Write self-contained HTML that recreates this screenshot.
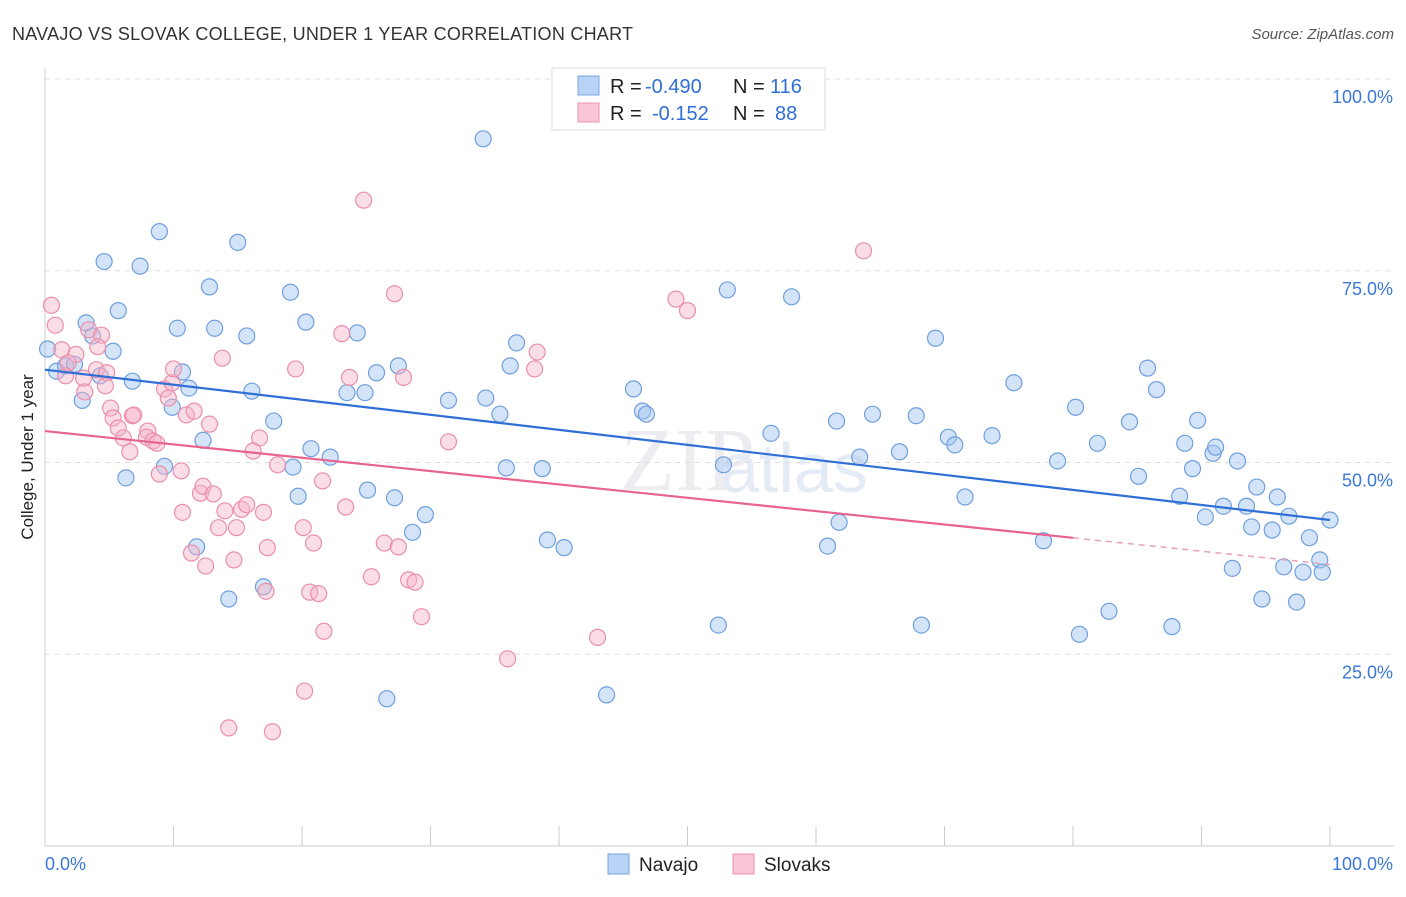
<!DOCTYPE html>
<html><head><meta charset="utf-8"><style>
body{margin:0;background:#fff;font-family:"Liberation Sans",sans-serif;}
</style></head><body>
<svg id="c" width="1406" height="892" xmlns="http://www.w3.org/2000/svg">
<text x="12" y="40" font-size="18" fill="#333" textLength="621">NAVAJO VS SLOVAK COLLEGE, UNDER 1 YEAR CORRELATION CHART</text>
<text x="1394" y="39" font-size="15" fill="#555" font-style="italic" text-anchor="end">Source: ZipAtlas.com</text>
<text x="33" y="457" font-size="17" fill="#222" text-anchor="middle" transform="rotate(-90 33 457)">College, Under 1 year</text>
<text x="620" y="490" font-size="90" fill="#ededf1" font-family="Liberation Serif">ZIP</text>
<text x="720" y="492" font-size="70" fill="#e4ebf6">atlas</text>
<g id="grid"></g><g id="pts"></g><g id="lines"></g>
<g>
<rect x="552" y="68" width="273" height="62" fill="#fff" stroke="#ddd"/>
<rect x="578" y="76" width="21" height="19" fill="#b8d3f5" stroke="#7aa7e0"/>
<rect x="578" y="103" width="21" height="19" fill="#f9c6d5" stroke="#eb93ad"/>
<text x="610" y="93" font-size="20" fill="#222">R =</text>
<text x="645" y="93" font-size="20" fill="#2f6fd6">-0.490</text>
<text x="733" y="93" font-size="20" fill="#222">N =</text>
<text x="770" y="93" font-size="20" fill="#2f6fd6">116</text>
<text x="610" y="120" font-size="20" fill="#222">R =</text>
<text x="652" y="120" font-size="20" fill="#2f6fd6">-0.152</text>
<text x="733" y="120" font-size="20" fill="#222">N =</text>
<text x="775" y="120" font-size="20" fill="#2f6fd6">88</text>
</g>
<g>
<rect x="608" y="854" width="21" height="20" fill="#b8d3f5" stroke="#7aa7e0"/>
<text x="639" y="871" font-size="19" fill="#222">Navajo</text>
<rect x="733" y="854" width="21" height="20" fill="#f9c6d5" stroke="#eb93ad"/>
<text x="764" y="871" font-size="19" fill="#222">Slovaks</text>
</g>
</svg>
<script>
const navX=[34.1,8.9,15.0,4.6,7.4,12.8,19.1,53.1,58.1,5.7,3.2,10.3,13.2,15.7,20.3,24.3,69.3,3.7,5.3,0.2,0.9,1.6,2.3,4.3,6.8,10.7,11.2,16.1,23.5,24.9,25.8,27.5,36.7,36.2,31.4,34.3,35.4,45.8,46.5,46.8,9.9,2.9,17.8,12.3,9.3,6.3,20.7,19.3,22.2,19.7,25.1,27.2,29.6,28.6,35.9,38.7,39.1,40.4,52.8,56.5,61.6,64.4,63.4,66.5,67.8,70.3,70.8,73.7,75.4,71.6,61.8,60.9,52.4,43.7,26.6,17.0,14.3,11.8,80.2,78.8,81.9,84.4,85.8,86.5,85.1,88.3,88.7,89.3,89.7,90.9,91.1,92.8,94.3,95.9,91.7,90.3,93.9,93.5,95.5,96.8,98.4,99.2,100,92.4,96.4,97.9,99.4,94.7,97.4,77.7,82.8,80.5,87.7,68.2];
const navY=[92.2,80.1,78.7,76.2,75.6,72.9,72.2,72.5,71.6,69.8,68.2,67.5,67.5,66.5,68.3,66.9,66.2,66.5,64.5,64.8,61.9,62.6,62.8,61.3,60.6,61.8,59.7,59.3,59.1,59.1,61.7,62.6,65.6,62.6,58.1,58.4,56.3,59.6,56.7,56.3,57.2,58.1,55.4,52.9,49.5,48.0,51.8,49.4,50.7,45.6,46.4,45.4,43.2,40.9,49.3,49.2,39.9,38.9,49.7,53.8,55.4,56.3,50.7,51.4,56.1,53.3,52.3,53.5,60.4,45.5,42.2,39.1,28.8,19.7,19.2,33.8,32.2,39.0,57.2,50.2,52.5,55.3,62.3,59.5,48.2,45.6,52.5,49.2,55.5,51.2,52.0,50.2,46.8,45.5,44.3,42.9,41.6,44.3,41.2,43.0,40.2,37.3,42.5,36.2,36.4,35.7,35.7,32.2,31.8,39.8,30.6,27.6,28.6,28.8];
const slvX=[24.8,63.7,27.2,49.1,50.0,0.5,0.8,3.4,4.4,4.1,1.3,2.4,1.8,4.0,3.0,4.8,3.1,5.1,5.3,5.7,6.1,6.6,6.8,8.0,7.9,8.4,8.7,9.3,9.6,9.9,10.0,11.0,11.6,12.8,13.8,19.5,23.1,38.3,38.1,23.7,27.9,31.4,8.9,10.6,12.1,12.3,13.1,10.7,14.0,15.3,15.7,14.9,13.5,17.0,16.7,16.2,18.1,21.6,23.4,11.4,12.5,14.7,17.3,20.1,20.9,17.2,20.6,21.3,26.4,27.5,28.3,28.8,25.4,29.3,21.7,20.2,14.3,17.7,36.0,43.0,6.9,1.6,4.7];
const slvY=[84.2,77.6,72.0,71.3,69.8,70.5,67.9,67.3,66.6,65.1,64.7,64.1,63.0,62.1,61.0,61.7,59.2,57.1,55.8,54.5,53.2,51.4,56.1,54.1,53.3,52.8,52.5,59.6,58.4,60.4,62.2,56.2,56.7,55.0,63.6,62.2,66.8,64.4,62.2,61.1,61.1,52.7,48.5,48.9,46.0,46.9,45.9,43.5,43.7,43.9,44.5,41.5,41.5,43.5,53.2,51.5,49.7,47.6,44.2,38.2,36.5,37.3,38.9,41.5,39.5,33.2,33.1,32.9,39.5,39.0,34.7,34.4,35.1,29.9,28.0,20.2,15.4,14.9,24.4,27.2,56.2,61.3,60.0];
const navTrend=[62.1,42.5];
const slvTrend=[54.1,36.7];
const slvSolidEnd=80;
const yTicks=[25,50,75,100];
const xTicks=[0,10,20,30,40,50,60,70,80,90,100];
const NS="http://www.w3.org/2000/svg";
const sx=v=>45+v*12.85, sy=v=>846-v*7.67;
function mk(tag,attrs,parent){const e=document.createElementNS(NS,tag);for(const k in attrs)e.setAttribute(k,attrs[k]);parent.appendChild(e);return e;}
const grid=document.getElementById('grid');
let ax=mk('line',{x1:45,y1:68,x2:45,y2:846,stroke:'#ccc'},grid);


let bx=mk('line',{x1:45,y1:846,x2:1394,y2:846,stroke:'#ccc'},grid);


yTicks.forEach(t=>{
 const g=mk('line',{x1:45,y1:sy(t),x2:1394,y2:sy(t),stroke:'#ddd','stroke-dasharray':'5,5'},grid);
 
 
 const l=mk('text',{x:1393,y:sy(t)+24,'font-size':18,fill:'#3b78d8','text-anchor':'end'},grid);
 l.textContent=t.toFixed(1)+'%';
 
 
});
xTicks.forEach(t=>{
 const g=mk('line',{x1:sx(t),y1:826,x2:sx(t),y2:846,stroke:'#ccc'},grid);
 
 
});
[[0,'start',45],[100,'end',1393]].forEach(([v,a,x])=>{
 const l=mk('text',{x:x,y:870,'font-size':18,fill:'#3b78d8','text-anchor':a},grid);
 l.textContent=v.toFixed(1)+'%';
 
 
});
const pts=document.getElementById('pts');
navX.forEach((x,i)=>{
 const c=mk('circle',{cx:sx(x),cy:sy(navY[i]),r:8,fill:'rgba(160,196,240,0.45)',stroke:'#6f9fde','stroke-width':1.2},pts);
 
 
});
slvX.forEach((x,i)=>{
 const c=mk('circle',{cx:sx(x),cy:sy(slvY[i]),r:8,fill:'rgba(247,180,200,0.45)',stroke:'#ea8fab','stroke-width':1.2},pts);
 
 
});
const ln=document.getElementById('lines');
let t1=mk('line',{x1:sx(0),y1:sy(navTrend[0]),x2:sx(100),y2:sy(navTrend[1]),stroke:'#2f6fd6','stroke-width':2.2},ln);


const ym=slvTrend[0]+(slvTrend[1]-slvTrend[0])*slvSolidEnd/100;
let t2=mk('line',{x1:sx(0),y1:sy(slvTrend[0]),x2:sx(slvSolidEnd),y2:sy(ym),stroke:'#e8638e','stroke-width':2.2},ln);


let t3=mk('line',{x1:sx(slvSolidEnd),y1:sy(ym),x2:sx(100),y2:sy(slvTrend[1]),stroke:'#e8a0b8','stroke-width':1.5,'stroke-dasharray':'6,5'},ln);


</script>
</body></html>
